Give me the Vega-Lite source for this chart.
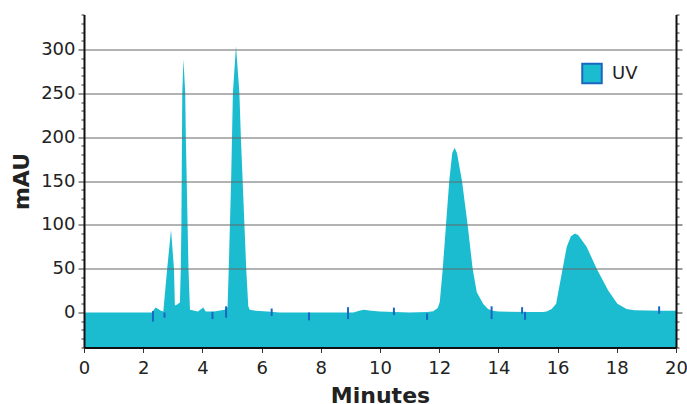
{
  "$schema": "https://vega.github.io/schema/vega-lite/v6.json",
  "width": 592,
  "height": 333,
  "autosize": "none",
  "padding": {"left": 84, "top": 14.5, "right": 11, "bottom": 56.5},
  "background": "white",
  "config": {
    "view": {"stroke": null},
    "font": "DejaVu Sans",
    "axis": {
      "labelFont": "DejaVu Sans",
      "labelFontSize": 18,
      "labelColor": "#222222",
      "titleFont": "DejaVu Sans",
      "titleFontSize": 22,
      "titleFontWeight": "bold",
      "titleColor": "#222222",
      "domainColor": "#111111",
      "domainWidth": 2,
      "tickColor": "#333333",
      "tickWidth": 1
    }
  },
  "datasets": {
    "uv": [
      {"min": 0, "mau": 0, "series": "UV"},
      {"min": 2.3, "mau": 0, "series": "UV"},
      {"min": 2.36, "mau": 3, "series": "UV"},
      {"min": 2.42, "mau": 5.7, "series": "UV"},
      {"min": 2.6, "mau": 2, "series": "UV"},
      {"min": 2.68, "mau": 1, "series": "UV"},
      {"min": 2.81, "mau": 50, "series": "UV"},
      {"min": 2.94, "mau": 94, "series": "UV"},
      {"min": 3.04, "mau": 50, "series": "UV"},
      {"min": 3.07, "mau": 8, "series": "UV"},
      {"min": 3.15, "mau": 9, "series": "UV"},
      {"min": 3.22, "mau": 11, "series": "UV"},
      {"min": 3.24, "mau": 11, "series": "UV"},
      {"min": 3.27, "mau": 50, "series": "UV"},
      {"min": 3.29, "mau": 100, "series": "UV"},
      {"min": 3.3, "mau": 150, "series": "UV"},
      {"min": 3.31, "mau": 200, "series": "UV"},
      {"min": 3.32, "mau": 250, "series": "UV"},
      {"min": 3.36, "mau": 289, "series": "UV"},
      {"min": 3.42, "mau": 250, "series": "UV"},
      {"min": 3.44, "mau": 200, "series": "UV"},
      {"min": 3.47, "mau": 150, "series": "UV"},
      {"min": 3.5, "mau": 100, "series": "UV"},
      {"min": 3.53, "mau": 50, "series": "UV"},
      {"min": 3.58, "mau": 3, "series": "UV"},
      {"min": 3.85, "mau": 1, "series": "UV"},
      {"min": 4.03, "mau": 5.7, "series": "UV"},
      {"min": 4.11, "mau": 1, "series": "UV"},
      {"min": 4.39, "mau": 1, "series": "UV"},
      {"min": 4.76, "mau": 3, "series": "UV"},
      {"min": 4.85, "mau": 6, "series": "UV"},
      {"min": 4.89, "mau": 50, "series": "UV"},
      {"min": 4.93, "mau": 100, "series": "UV"},
      {"min": 4.97, "mau": 150, "series": "UV"},
      {"min": 5.0, "mau": 200, "series": "UV"},
      {"min": 5.03, "mau": 250, "series": "UV"},
      {"min": 5.135, "mau": 304, "series": "UV"},
      {"min": 5.25, "mau": 250, "series": "UV"},
      {"min": 5.3, "mau": 200, "series": "UV"},
      {"min": 5.36, "mau": 150, "series": "UV"},
      {"min": 5.42, "mau": 100, "series": "UV"},
      {"min": 5.48, "mau": 50, "series": "UV"},
      {"min": 5.55, "mau": 7, "series": "UV"},
      {"min": 5.6, "mau": 3, "series": "UV"},
      {"min": 5.8, "mau": 2, "series": "UV"},
      {"min": 6.2, "mau": 1, "series": "UV"},
      {"min": 6.6, "mau": 0, "series": "UV"},
      {"min": 9.1, "mau": 0, "series": "UV"},
      {"min": 9.3, "mau": 2, "series": "UV"},
      {"min": 9.45, "mau": 3, "series": "UV"},
      {"min": 9.7, "mau": 2, "series": "UV"},
      {"min": 10.0, "mau": 1, "series": "UV"},
      {"min": 10.5, "mau": 0.5, "series": "UV"},
      {"min": 11.0, "mau": 0, "series": "UV"},
      {"min": 11.6, "mau": 0.5, "series": "UV"},
      {"min": 11.8, "mau": 1.5, "series": "UV"},
      {"min": 11.95, "mau": 5, "series": "UV"},
      {"min": 12.02, "mau": 12, "series": "UV"},
      {"min": 12.12, "mau": 50, "series": "UV"},
      {"min": 12.23, "mau": 100, "series": "UV"},
      {"min": 12.34, "mau": 150, "series": "UV"},
      {"min": 12.44, "mau": 182, "series": "UV"},
      {"min": 12.52, "mau": 188, "series": "UV"},
      {"min": 12.6, "mau": 182, "series": "UV"},
      {"min": 12.77, "mau": 150, "series": "UV"},
      {"min": 12.96, "mau": 100, "series": "UV"},
      {"min": 13.13, "mau": 50, "series": "UV"},
      {"min": 13.27, "mau": 23, "series": "UV"},
      {"min": 13.49, "mau": 9.5, "series": "UV"},
      {"min": 13.65, "mau": 4, "series": "UV"},
      {"min": 13.8, "mau": 2, "series": "UV"},
      {"min": 14.0, "mau": 1, "series": "UV"},
      {"min": 15.0, "mau": 0.5, "series": "UV"},
      {"min": 15.5, "mau": 0.5, "series": "UV"},
      {"min": 15.63, "mau": 1, "series": "UV"},
      {"min": 15.8, "mau": 4, "series": "UV"},
      {"min": 15.95, "mau": 10, "series": "UV"},
      {"min": 16.17, "mau": 50, "series": "UV"},
      {"min": 16.31, "mau": 75, "series": "UV"},
      {"min": 16.45, "mau": 87, "series": "UV"},
      {"min": 16.59, "mau": 90, "series": "UV"},
      {"min": 16.7, "mau": 88, "series": "UV"},
      {"min": 16.98, "mau": 75, "series": "UV"},
      {"min": 17.32, "mau": 50, "series": "UV"},
      {"min": 17.71, "mau": 25, "series": "UV"},
      {"min": 18.02, "mau": 10, "series": "UV"},
      {"min": 18.33, "mau": 4, "series": "UV"},
      {"min": 18.6, "mau": 2.5, "series": "UV"},
      {"min": 19.5, "mau": 2, "series": "UV"},
      {"min": 20, "mau": 2, "series": "UV"}
    ],
    "markers": [
      {"min": 2.33, "top": 1.5, "bottom": -10.6},
      {"min": 2.72, "top": 0, "bottom": -6},
      {"min": 4.34, "top": 0.7, "bottom": -7.6},
      {"min": 4.8, "top": 7, "bottom": -6},
      {"min": 6.34, "top": 4.5, "bottom": -4},
      {"min": 7.6, "top": 0, "bottom": -9},
      {"min": 8.92, "top": 6, "bottom": -7.6},
      {"min": 10.47, "top": 5.5, "bottom": -3},
      {"min": 11.59, "top": -1, "bottom": -8.5},
      {"min": 13.77, "top": 7, "bottom": -7.6},
      {"min": 14.8, "top": 6, "bottom": -1.5},
      {"min": 14.9, "top": 0.7, "bottom": -8.4},
      {"min": 19.43, "top": 7, "bottom": -1.6}
    ]
  },
  "resolve": {"scale": {"y": "independent"}},
  "layer": [
    {
      "data": {"name": "uv"},
      "mark": {"type": "area", "interpolate": "linear"},
      "encoding": {
        "x": {
          "field": "min", "type": "quantitative",
          "scale": {"domain": [0, 20], "nice": false},
          "axis": {
            "title": "Minutes",
            "values": [0,1,2,3,4,5,6,7,8,9,10,11,12,13,14,15,16,17,18,19,20],
            "labelExpr": "datum.value % 2 === 0 ? datum.label : ''",
            "grid": false,
            "tickSize": 5,
            "labelPadding": 7,
            "titlePadding": 8,
            "labelFlush": false,
            "zindex": 1
          }
        },
        "y": {
          "field": "mau", "type": "quantitative",
          "scale": {"domain": [-40, 340], "nice": false, "zero": false},
          "axis": {
            "title": "mAU",
            "orient": "left",
            "values": [-40,-30,-20,-10,0,10,20,30,40,50,60,70,80,90,100,110,120,130,140,150,160,170,180,190,200,210,220,230,240,250,260,270,280,290,300,310,320,330,340],
            "labelExpr": "datum.value % 50 === 0 && datum.value >= 0 ? datum.label : ''",
            "tickSize": {"condition": {"test": "datum.value % 50 === 0", "value": 6}, "value": 3},
            "grid": true,
            "gridColor": "#666666",
            "gridWidth": 1,
            "gridOpacity": {"condition": {"test": "datum.value % 50 === 0 && datum.value > 0", "value": 1}, "value": 0},
            "labelPadding": 3,
            "titlePadding": 7,
            "labelFlush": false,
            "zindex": 1
          }
        },
        "y2": {"datum": -40},
        "color": {
          "field": "series", "type": "nominal",
          "scale": {"range": ["#1bbccf"]},
          "legend": {
            "title": null,
            "orient": "none",
            "legendX": 497,
            "legendY": 48,
            "padding": 0,
            "symbolType": "square",
            "symbolSize": 380,
            "symbolStrokeColor": "#1a66c0",
            "symbolStrokeWidth": 2,
            "symbolOpacity": 1,
            "labelFont": "DejaVu Sans",
            "labelFontSize": 18,
            "labelColor": "#222222",
            "labelOffset": 9
          }
        }
      }
    },
    {
      "data": {"name": "markers"},
      "mark": {"type": "rule", "color": "#1a66c0", "strokeWidth": 2},
      "encoding": {
        "x": {"field": "min", "type": "quantitative"},
        "y": {
          "field": "top", "type": "quantitative",
          "scale": {"domain": [-40, 340], "nice": false, "zero": false},
          "axis": {
            "title": null,
            "orient": "right",
            "values": [-40,-30,-20,-10,0,10,20,30,40,50,60,70,80,90,100,110,120,130,140,150,160,170,180,190,200,210,220,230,240,250,260,270,280,290,300,310,320,330,340],
            "labels": false,
            "grid": false,
            "tickSize": {"condition": {"test": "datum.value % 50 === 0", "value": 6}, "value": 3},
            "zindex": 1
          }
        },
        "y2": {"field": "bottom"}
      }
    }
  ]
}
